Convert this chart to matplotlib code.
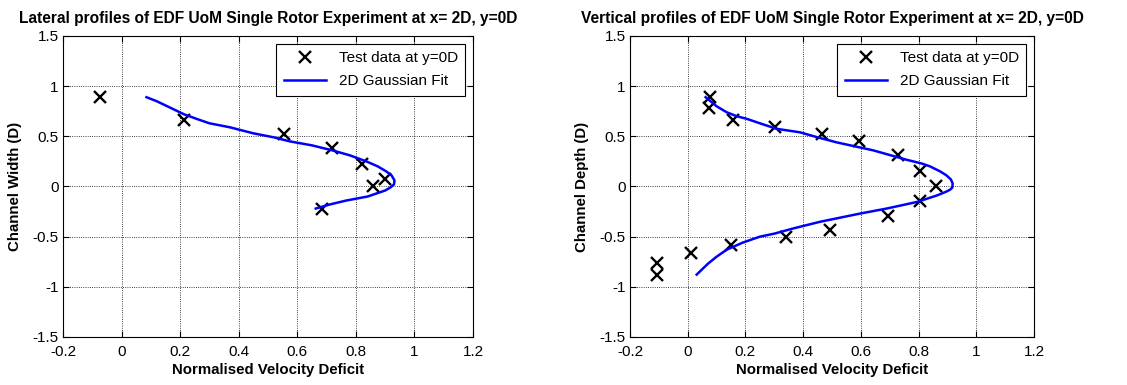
import numpy as np
import matplotlib.pyplot as plt

plt.rcParams['font.family'] = ['Liberation Sans', 'DejaVu Sans']

# lateral profile (left)
lat_test_x = [-0.075, 0.213, 0.553, 0.72, 0.822, 0.858, 0.898, 0.686]
lat_test_y = [0.89, 0.665, 0.52, 0.38, 0.226, 0.0, 0.076, -0.22]
lat_fit_x = [0.085, 0.12, 0.17, 0.213, 0.26, 0.3, 0.37, 0.45, 0.52, 0.574, 0.65, 0.72, 0.78,
             0.836, 0.875, 0.904, 0.922, 0.932, 0.93, 0.918, 0.9, 0.88, 0.84, 0.767, 0.71, 0.663]
lat_fit_y = [0.89, 0.85, 0.78, 0.72, 0.67, 0.63, 0.59, 0.53, 0.49, 0.45, 0.41, 0.36, 0.31,
             0.25, 0.2, 0.15, 0.11, 0.06, 0.02, -0.01, -0.04, -0.06, -0.1, -0.14, -0.18, -0.22]

# vertical profile (right)
ver_test_x = [0.077, 0.075, 0.158, 0.302, 0.464, 0.595, 0.73, 0.805, 0.86,
              0.805, 0.695, 0.493, 0.34, 0.15, 0.011, -0.108, -0.108]
ver_test_y = [0.89, 0.785, 0.665, 0.59, 0.52, 0.45, 0.31, 0.153, 0.0,
              -0.148, -0.296, -0.434, -0.506, -0.58, -0.66, -0.76, -0.885]
ver_fit_x = [0.062, 0.1, 0.135, 0.17, 0.204, 0.25, 0.308, 0.389, 0.45, 0.516, 0.643, 0.759,
             0.81, 0.84, 0.875, 0.897, 0.912, 0.918, 0.917, 0.91, 0.897, 0.863, 0.793, 0.689,
             0.597, 0.458, 0.366, 0.3, 0.25, 0.19, 0.135, 0.1, 0.07, 0.031]
ver_fit_y = [0.89, 0.8, 0.74, 0.7, 0.675, 0.63, 0.575, 0.54, 0.49, 0.44, 0.36, 0.266,
             0.23, 0.2, 0.15, 0.11, 0.07, 0.03, -0.01, -0.03, -0.05, -0.09, -0.155, -0.22,
             -0.27, -0.352, -0.418, -0.47, -0.5, -0.56, -0.63, -0.7, -0.77, -0.878]

xticks = [-0.2, 0, 0.2, 0.4, 0.6, 0.8, 1, 1.2]
xlabels = ['-0.2', '0', '0.2', '0.4', '0.6', '0.8', '1', '1.2']
yticks = [-1.5, -1, -0.5, 0, 0.5, 1, 1.5]
ylabels = ['-1.5', '-1', '-0.5', '0', '0.5', '1', '1.5']

fig = plt.figure(figsize=(11.27, 3.85), dpi=100)
ax1 = fig.add_axes([0.0559, 0.1247, 0.3638, 0.7818])
ax2 = fig.add_axes([0.559, 0.1247, 0.3585, 0.7818])

panels = [
    (ax1, lat_test_x, lat_test_y, lat_fit_x, lat_fit_y,
     'Lateral profiles of EDF UoM Single Rotor Experiment at x= 2D, y=0D', 'Channel Width (D)'),
    (ax2, ver_test_x, ver_test_y, ver_fit_x, ver_fit_y,
     'Vertical profiles of EDF UoM Single Rotor Experiment at x= 2D, y=0D', 'Channel Depth (D)'),
]

for ax, tx, ty, fx, fy, title, ylab in panels:
    ax.plot(tx, ty, 'x', color='black', markersize=8, markeredgewidth=1.7, label='Test data at y=0D')
    ax.plot(fx, fy, '-', color='#0000ff', linewidth=1.8, label='2D Gaussian Fit')
    ax.set_xlim(-0.2, 1.2)
    ax.set_ylim(-1.5, 1.5)
    ax.set_xticks(xticks)
    ax.set_xticklabels(xlabels)
    ax.set_yticks(yticks)
    ax.set_yticklabels(ylabels)
    ax.grid(True, linestyle=':', color='black', linewidth=0.6)
    ax.tick_params(direction='in', top=True, right=True, labelsize=11, length=4)
    ax.tick_params(axis='x', pad=6)
    ax.tick_params(axis='y', pad=3)
    ax.set_title(title, fontsize=11.2, fontweight='bold', pad=9)
    ax.set_xlabel('Normalised Velocity Deficit', fontsize=10.8, fontweight='bold', labelpad=3)
    ax.set_ylabel(ylab, fontsize=10.8, fontweight='bold', labelpad=8)
    leg = ax.legend(loc='upper right', fontsize=11, fancybox=False, framealpha=1,
                    edgecolor='black', borderaxespad=0.5, handlelength=2.8,
                    borderpad=0.5, labelspacing=0.6)
    leg.get_frame().set_linewidth(0.8)

fig.savefig('out.png', dpi=100)
